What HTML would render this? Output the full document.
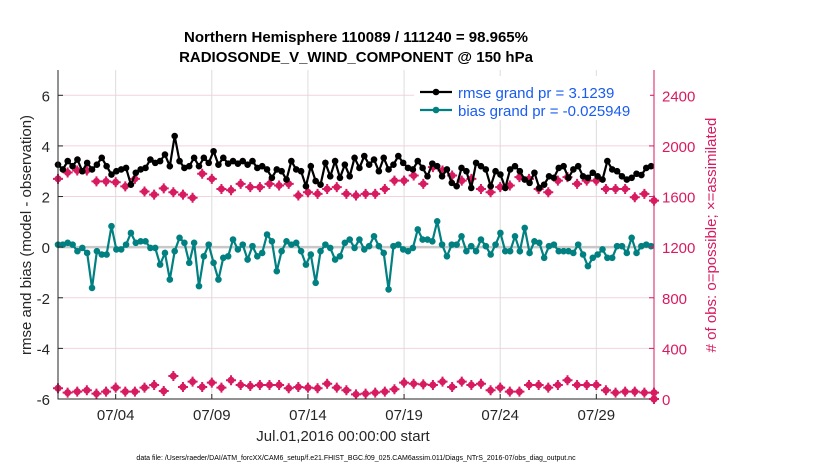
<!DOCTYPE html>
<html><head><meta charset="utf-8"><style>
html,body{margin:0;padding:0;background:#fff;}
svg{display:block;font-family:"Liberation Sans",Arial,sans-serif;}
</style></head><body>
<svg id="chart" width="830" height="470" viewBox="0 0 830 470"></svg>
<script>
const rmse=[3.26,3.07,3.40,3.20,3.46,3.00,3.33,3.07,3.26,3.53,3.20,2.87,3.00,3.07,3.13,2.47,2.94,3.07,3.13,3.46,3.33,3.40,3.66,3.20,4.39,3.40,3.13,3.20,3.53,3.20,3.53,3.33,3.79,3.26,3.53,3.30,3.40,3.30,
3.40,3.26,3.40,3.13,3.20,3.07,2.74,3.07,3.00,2.67,3.40,3.07,3.00,2.41,3.20,2.61,2.47,3.33,2.80,3.40,2.74,3.26,2.80,3.53,3.13,3.60,3.26,3.46,3.00,3.53,3.07,3.26,3.60,3.33,3.13,3.07,3.40,3.13,2.80,3.30,3.20,
2.80,3.07,2.54,2.41,3.13,3.00,2.34,3.33,3.20,3.07,2.41,3.00,2.87,2.34,3.07,3.20,3.00,2.67,2.54,2.94,2.34,2.47,2.80,2.74,3.13,3.20,2.74,3.07,3.20,2.80,2.74,2.94,2.80,2.67,3.40,3.07,3.00,2.80,2.67,2.74,2.90,2.85,3.13,3.20];
const bias=[0.10,0.10,0.17,0.10,-0.16,-0.03,-0.23,-1.61,-0.16,-0.29,-0.29,0.83,-0.09,-0.09,0.10,0.56,0.17,0.23,0.23,-0.03,-0.03,-0.69,-0.23,-1.28,-0.16,0.37,0.17,-0.62,0.17,-1.54,-0.36,0.10,-0.62,-1.28,-0.42,-0.36,0.30,-0.09,
0.10,-0.49,0.04,-0.36,-0.23,0.50,0.23,-0.95,-0.16,0.23,0.10,0.17,-0.16,-0.69,-0.29,-1.41,-0.16,0.10,-0.03,-0.49,-0.36,0.17,0.30,-0.03,0.30,-0.09,0.04,0.43,0.04,-0.23,-1.67,0.04,0.10,-0.09,-0.16,-0.03,0.70,0.30,0.30,0.23,1.02,0.10,-0.36,
0.10,0.10,0.43,-0.16,0.04,-0.16,0.30,0.04,-0.29,0.10,0.56,-0.16,-0.16,0.43,-0.16,0.76,-0.23,0.23,0.17,-0.42,0.04,0.10,-0.16,-0.16,-0.16,-0.23,0.10,-0.29,-0.75,-0.42,-0.29,-0.09,-0.42,-0.42,0.04,0.04,-0.23,0.37,-0.23,0.04,0.10,0.04];
const possible=[1740,1790,1806,1806,1720,1720,1713,1680,1740,1640,1615,1665,1634,1615,1590,1780,1740,1660,1650,1700,1674,1674,1700,1687,1700,1608,1634,1621,1660,1674,1621,1608,1621,1621,1660,1726,1726,1766,1700,1832,1806,1766,1726,1740,1660,1634,1674,1687,1753,1740,1660,1634,1726,1753,1700,1726,1726,1660,1660,1660,1594,1621,1568,0];
const assim=[85,50,58,69,42,58,90,58,58,90,111,63,182,95,137,95,129,90,148,111,103,111,111,111,85,95,90,85,121,90,69,37,42,50,58,77,129,121,116,111,137,95,137,111,121,69,90,58,58,111,111,90,111,148,111,111,111,69,50,58,58,50,50,0];
const xTicks=[4,9,14,19,24,29];
const xTickLabels=["07/04","07/09","07/14","07/19","07/24","07/29"];
const yTicks=[-6,-4,-2,0,2,4,6];
const rTicks=[0,400,800,1200,1600,2000,2400];

const svg=document.getElementById('chart');
const NS='http://www.w3.org/2000/svg';
const L=58,R=654,T=70,B=399;
const xS=d=>L+(d-1)/31*(R-L);
const yS=v=>B-(v+6)/13*(B-T);
const rS=v=>B-v/2600*(B-T);
function el(t,a,p){const e=document.createElementNS(NS,t);for(const k in a)e.setAttribute(k,a[k]);(p||svg).appendChild(e);return e;}
function tx(x,y,s,a){const e=el('text',Object.assign({x:x,y:y},a));e.textContent=s;return e;}

el('rect',{x:L,y:T,width:R-L,height:B-T,fill:'#fff'});
rTicks.forEach(v=>{const g=el('line',{x1:L,x2:R,y1:rS(v),y2:rS(v),stroke:'#f2d3de','stroke-width':1});

});
xTicks.forEach(d=>{const g=el('line',{x1:xS(d),x2:xS(d),y1:T,y2:B,stroke:'#dcdcdc','stroke-width':1});

});
const zl=el('line',{x1:L,x2:R,y1:yS(0),y2:yS(0),stroke:'#c8c8c8','stroke-width':2.5});



function series(vals,col,name){
  const step=30.85/(vals.length-1);
  const pts=vals.map((v,i)=>[xS(1+i*step),yS(v)]);
  const pl=el('polyline',{points:pts.map(p=>p.join(',')).join(' '),fill:'none',stroke:col,'stroke-width':2.2});
  
  
  pts.forEach(p=>{const c=el('circle',{cx:p[0],cy:p[1],r:3.3,fill:col});
  
  });
}
function obs(vals,name){
  vals.forEach((v,i)=>{const d=i<vals.length-1?1+i*0.5:32;const x=xS(d),y=rS(v);
  const g=el('g',{});
  
  
  el('circle',{cx:x,cy:y,r:3.5,fill:'#d81b60'},g);
  el('path',{d:`M${x-5} ${y}H${x+5}M${x} ${y-5}V${y+5}`,stroke:'#d81b60','stroke-width':2},g);});
}
obs(possible,'obs-possible');
obs(assim,'obs-assimilated');
series(rmse,'#000','rmse');
series(bias,'#008080','bias');

const ax=el('path',{d:`M${L} ${T}V${B}H${R}`,fill:'none',stroke:'#262626','stroke-width':1});


const rax=el('line',{x1:R,x2:R,y1:T,y2:B,stroke:'#d81b60','stroke-width':1});


yTicks.forEach(v=>{el('line',{x1:L,x2:L+5,y1:yS(v),y2:yS(v),stroke:'#262626'});
const t=tx(L-8,yS(v)+6,String(v),{'text-anchor':'end','font-size':15,fill:'#262626'});

});
rTicks.forEach(v=>{el('line',{x1:R-5,x2:R,y1:rS(v),y2:rS(v),stroke:'#d81b60'});
const t=tx(R+8,rS(v)+6,String(v),{'font-size':15,fill:'#d81b60'});

});
xTicks.forEach((d,i)=>{el('line',{x1:xS(d),x2:xS(d),y1:B,y2:B-5,stroke:'#262626'});
const t=tx(xS(d),B+21,xTickLabels[i],{'text-anchor':'middle','font-size':15,fill:'#262626'});

});
</script>
<svg width="830" height="470" style="position:absolute;left:0;top:0">
<text x="356" y="42" text-anchor="middle" font-size="15" font-weight="bold" fill="#000">Northern Hemisphere 110089 / 111240 = 98.965%</text>
<text x="356" y="62" text-anchor="middle" font-size="15" font-weight="bold" fill="#000">RADIOSONDE_V_WIND_COMPONENT @ 150 hPa</text>
<text transform="translate(31,235) rotate(-90)" text-anchor="middle" font-size="15" fill="#262626">rmse and bias (model - observation)</text>
<text transform="translate(716,235) rotate(-90)" text-anchor="middle" font-size="15" fill="#d81b60"># of obs: o=possible; ×=assimilated</text>
<text x="343" y="441" text-anchor="middle" font-size="15" fill="#262626">Jul.01,2016 00:00:00 start</text>
<text x="356" y="460" text-anchor="middle" font-size="7" fill="#000">data file: /Users/raeder/DAI/ATM_forcXX/CAM6_setup/f.e21.FHIST_BGC.f09_025.CAM6assim.011/Diags_NTrS_2016-07/obs_diag_output.nc</text>
<g>
<rect x="414" y="76" width="236" height="44" fill="#fff"/>
<line x1="420" y1="92" x2="452" y2="92" stroke="#000" stroke-width="2.2"/><circle cx="436" cy="92" r="3.3" fill="#000"/>
<text x="458" y="98" font-size="15" fill="#1a5cf0">rmse grand pr = 3.1239</text>
<line x1="420" y1="110" x2="452" y2="110" stroke="#008080" stroke-width="2.2"/><circle cx="436" cy="110" r="3.3" fill="#008080"/>
<text x="458" y="116" font-size="15" fill="#1a5cf0">bias grand pr = -0.025949</text>
</g>
</svg>
</body></html>
